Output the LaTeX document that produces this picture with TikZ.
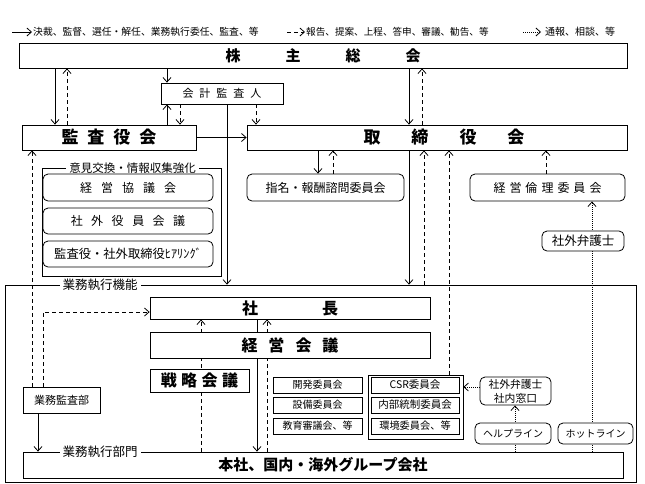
\documentclass[tikz,border=0pt]{standalone}
\usepackage{fontspec}
\setmainfont{Noto Sans CJK JP}
\usetikzlibrary{arrows.meta,backgrounds}

\newcommand{\jsize}[1]{\fontsize{#1}{#1}\selectfont}
\newcommand{\jgap}[1]{\hspace*{#1}}

\begin{document}
\begin{tikzpicture}[x=1pt,y=-1pt,
    sqbox/.style={draw, fill=white, inner sep=0pt, line width=0.8pt},
    rdbox/.style={sqbox, rounded corners=5pt},
    frame/.style={draw, line width=0.7pt, inner sep=0pt},
    tag/.style={fill=white, inner xsep=3pt, inner ysep=0pt},
    decide/.style={line width=0.8pt, -{Straight Barb[length=4.5pt,width=8pt]}},
    report/.style={decide, dash pattern=on 4pt off 3pt},
    notify/.style={decide, dash pattern=on 1pt off 1pt}]
    \useasboundingbox (0,0) rectangle (645,483);

    % legend
    \node[anchor=west, inner sep=0pt, font=\jsize{9.8pt}] (lgdecide) at (33,32) {決裁、監督、選任・解任、業務執行委任、監査、等};
    \node[anchor=west, inner sep=0pt, font=\jsize{9.6pt}] (lgreport) at (306,32) {報告、提案、上程、答申、審議、勧告、等};
    \node[anchor=west, inner sep=0pt, font=\jsize{10pt}] (lgnotify) at (545,32) {通報、相談、等};
    \draw[decide] ([xshift=-21pt]lgdecide.west) -- ([xshift=-1pt]lgdecide.west);
    \draw[report] ([xshift=-19pt]lgreport.west) -- ([xshift=-1pt]lgreport.west);
    \draw[notify] ([xshift=-22pt]lgnotify.west) -- ([xshift=-4pt]lgnotify.west);

    % top level
    \node[sqbox, minimum width=608pt, minimum height=25pt, font=\bfseries\jsize{15pt}] (kabunushi) at (323,55.5) {株\jgap{45pt}主\jgap{45pt}総\jgap{45pt}会};
    \node[sqbox, minimum width=122pt, minimum height=21pt, font=\jsize{11pt}] (kaikei) at (222,93.5) {会\jgap{6pt}計\jgap{6pt}監\jgap{6pt}査\jgap{6pt}人};
    \node[sqbox, minimum width=174pt, minimum height=25pt, font=\bfseries\jsize{17pt}] (kansayaku) at (109,137.5) {監\jgap{9pt}査\jgap{9pt}役\jgap{9pt}会};
    \node[sqbox, minimum width=380pt, minimum height=25pt, font=\bfseries\jsize{17pt}] (torishimari) at (437,137.5) {\jgap{14pt}取\jgap{31pt}締\jgap{31pt}役\jgap{31pt}会};

    \node[frame, minimum width=179pt, minimum height=108pt] (iken) at (131.5,222) {};
    \node[tag, font=\jsize{11.5pt}] (ikenlbl) at (132.5,168) {意見交換・情報収集強化};
    \node[rdbox, minimum width=170pt, minimum height=27pt, font=\jsize{12pt}] (kyogikai) at (128,187.5) {経\jgap{9pt}営\jgap{9pt}協\jgap{9pt}議\jgap{9pt}会};
    \node[rdbox, minimum width=170pt, minimum height=26pt, font=\jsize{12pt}] (yakuinkaigi) at (128,221) {社\jgap{8.5pt}外\jgap{8.5pt}役\jgap{8.5pt}員\jgap{8.5pt}会\jgap{8.5pt}議};
    \node[rdbox, minimum width=170pt, minimum height=26pt, font=\jsize{12.3pt}] (hearing) at (128,254) {監査役・社外取締役ﾋｱﾘﾝｸﾞ};

    \node[rdbox, minimum width=157pt, minimum height=27pt, font=\jsize{12pt}] (shimei) at (325.5,187.5) {指名・報酬諮問委員会};
    \node[rdbox, minimum width=155pt, minimum height=27pt, font=\jsize{12pt}] (rinri) at (547.5,187.5) {経\jgap{4pt}営\jgap{4pt}倫\jgap{4pt}理\jgap{4pt}委\jgap{4pt}員\jgap{4pt}会};
    \node[rdbox, minimum width=82pt, minimum height=20pt, font=\jsize{12.5pt}] (bengoshi) at (583,241) {社外弁護士};

    % execution
    \node[frame, minimum width=631pt, minimum height=197pt] (kinou) at (320.5,383.5) {};
    \node[tag, font=\jsize{12.5pt}] (kinoulbl) at (100,285) {業務執行機能};
    \node[sqbox, minimum width=280pt, minimum height=22pt, font=\bfseries\jsize{16pt}] (shacho) at (290,308) {社\jgap{64pt}長};
    \node[sqbox, minimum width=280pt, minimum height=26pt, font=\bfseries\jsize{16pt}] (keieikaigi) at (290,345) {経\jgap{11pt}営\jgap{11pt}会\jgap{11pt}議};
    \node[sqbox, minimum width=99pt, minimum height=23pt, font=\bfseries\jsize{16pt}] (senryaku) at (199.5,380.5) {戦\jgap{4.5pt}略\jgap{4.5pt}会\jgap{4.5pt}議};

    \node[sqbox, minimum width=89pt, minimum height=16pt, font=\jsize{10pt}] (kaihatsu) at (317.5,385) {開発委員会};
    \node[sqbox, minimum width=89pt, minimum height=16pt, font=\jsize{10pt}] (setsubi) at (317.5,405) {設備委員会};
    \node[sqbox, minimum width=89pt, minimum height=16pt, font=\jsize{10pt}] (kyoiku) at (317.5,426) {教育審議会、等};

    \node[frame, fill=white, minimum width=95pt, minimum height=64pt] (csrgrp) at (415.5,407) {};
    \node[sqbox, minimum width=88pt, minimum height=16pt, font=\jsize{10.5pt}] (csr) at (415,385) {CSR委員会};
    \node[sqbox, minimum width=88pt, minimum height=16pt, font=\jsize{10.5pt}] (naibu) at (415,405) {内部統制委員会};
    \node[sqbox, minimum width=88pt, minimum height=16pt, font=\jsize{10.2pt}] (kankyo) at (415,426) {環境委員会、等};

    \node[rdbox, minimum width=71pt, minimum height=28pt, align=center, font=\fontsize{10.8pt}{14pt}\selectfont] (madoguchi) at (515.5,391) {社外弁護士\\社内窓口};
    \node[rdbox, minimum width=76pt, minimum height=21pt, font=\jsize{10pt}] (helpline) at (513,433.5) {ヘルプライン};
    \node[rdbox, minimum width=75pt, minimum height=21pt, font=\jsize{10pt}] (hotline) at (595.5,433.5) {ホットライン};

    \node[sqbox, minimum width=77pt, minimum height=26pt, font=\jsize{11pt}] (kansabu) at (61.5,400) {業務監査部};
    \node[sqbox, minimum width=600pt, minimum height=26pt, font=\bfseries\jsize{15pt}] (honsha) at (323,465) {本社、国内・海外グループ会社};
    \node[tag, font=\jsize{12.5pt}] (bumonlbl) at (100,452) {業務執行部門};

    \begin{scope}[on background layer]
    % shareholders
    \draw[decide] (kabunushi.south -| 55,0) -- (kansayaku.north -| 55,0);
    \draw[report] (kansayaku.north -| 67,0) -- (kabunushi.south -| 67,0);
    \draw[decide] (kabunushi.south -| 167,0) -- (kaikei.north -| 167,0);
    \draw[decide] (kabunushi.south -| 409,0) -- (torishimari.north -| 409,0);
    \draw[report] (torishimari.north -| 422,0) -- (kabunushi.south -| 422,0);

    % auditors
    \draw[decide] (kansayaku.north -| 167,0) -- (kaikei.south -| 167,0);
    \draw[report] (kaikei.south -| 180,0) -- (kansayaku.north -| 180,0);
    \draw[report] (kaikei.south -| 256,0) -- (torishimari.north -| 256,0);
    \draw[decide] (kaikei.south -| 227,0) -- (kinou.north -| 227,0);
    \draw[decide] (kansayaku.east) -- (torishimari.west);

    % board
    \draw[decide] (torishimari.south -| 318,0) -- (shimei.north -| 318,0);
    \draw[report] (shimei.north -| 333,0) -- (torishimari.south -| 333,0);
    \draw[decide] (torishimari.south -| 409,0) -- (kinou.north -| 409,0);
    \draw[report] (kinou.north -| 424,0) -- (torishimari.south -| 424,0);
    \draw[report] (csrgrp.north -| 449,0) -- (torishimari.south -| 449,0);
    \draw[report] (rinri.north -| 546,0) -- (torishimari.south -| 546,0);

    % president
    \draw[report] (honsha.north -| 201,0) -- (shacho.south -| 201,0);
    \draw[decide] (shacho.south -| 257,0) -- (honsha.north -| 257,0);
    \draw[report] (honsha.north -| 267,0) -- (shacho.south -| 267,0);

    % internal audit
    \draw[report] (kansabu.north -| 32,0) -- (kansayaku.south -| 32,0);
    \draw[report] (kansabu.north -| 43,0) |- ([yshift=-4pt]shacho.west);
    \draw[decide] (kansabu.south -| 38,0) -- (honsha.north -| 38,0);

    % whistle-blowing
    \draw[notify] (madoguchi.west |- 0,387) -- (csrgrp.east |- 0,387);
    \draw[notify] (honsha.north -| 515,0) -- (madoguchi.south -| 515,0);
    \draw[notify] (honsha.north -| 592,0) -- (rinri.south -| 592,0);
    \end{scope}
\end{tikzpicture}
\end{document}
